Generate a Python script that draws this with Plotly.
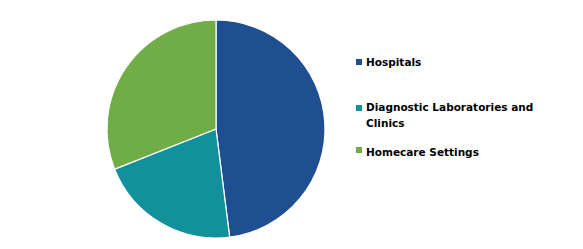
import plotly.graph_objects as go

W, H = 583, 249
categories = ["Hospitals", "Diagnostic Laboratories and<br>Clinics", "Homecare Settings"]
values = [48, 21, 31]
colors = ["#1F4E91", "#12919C", "#70AD47"]

fig = go.Figure(go.Pie(
    labels=categories, values=values, sort=False, direction="clockwise", rotation=0,
    marker=dict(colors=colors, line=dict(color="white", width=1.2)),
    textinfo="none", hoverinfo="label+percent", showlegend=False,
    domain=dict(x=[107/W, 325/W], y=[1-238/H, 1-20/H]),
))

# custom legend
label_y = [62, 107, 152]   # pixel centre of first text line
sq_y = [62, 108, 150]
for lab, c, ly, sy in zip(categories, colors, label_y, sq_y):
    fig.add_shape(type="rect", xref="paper", yref="paper",
                  x0=356/W, x1=362/W, y0=1-(sy+3)/H, y1=1-(sy-3)/H,
                  fillcolor=c, line=dict(width=0))
    for i, line in enumerate(lab.split("<br>")):
        fig.add_annotation(text="<b>"+line+"</b>", xref="paper", yref="paper",
                           x=364/W, y=1-(ly+16*i)/H, xanchor="left", yanchor="middle",
                           showarrow=False, align="left",
                           font=dict(family="DejaVu Sans", size=10.5, color="#000"))

fig.update_layout(width=W, height=H, margin=dict(l=0, r=0, t=0, b=0),
                  paper_bgcolor="white", plot_bgcolor="white")
fig.write_html("out.html")
